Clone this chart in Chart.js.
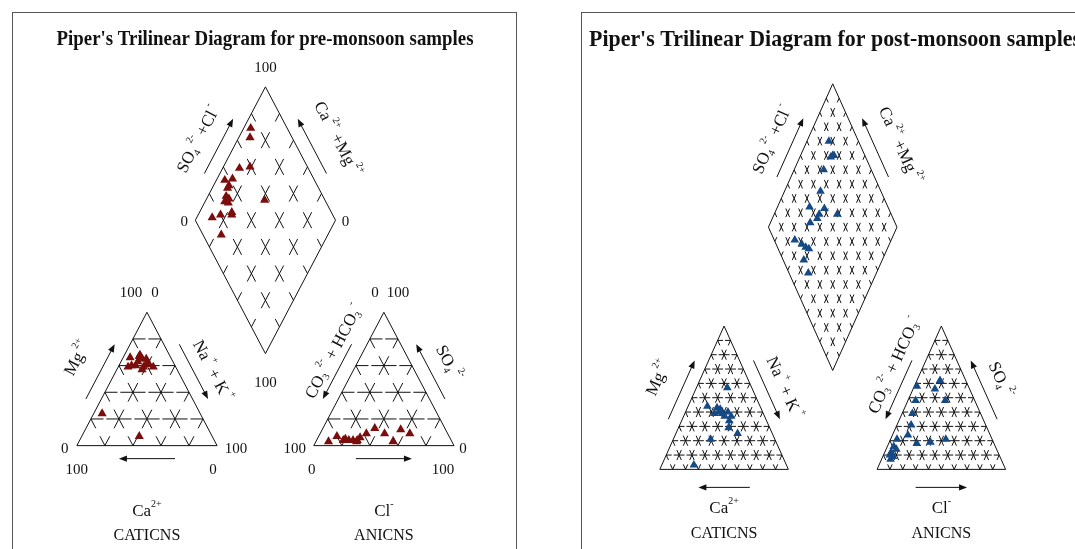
<!DOCTYPE html>
<html>
<head>
<meta charset="utf-8">
<title>Piper trilinear diagrams</title>
<script src="https://cdn.jsdelivr.net/npm/chart.js@4.4.1/dist/chart.umd.min.js"></script>
<style>
  html, body { margin: 0; padding: 0; background: #fff; }
  body { position: relative; width: 1075px; height: 549px; overflow: hidden; }
  .box { position: absolute; border: 1px solid #555; border-bottom: none; }
  canvas { position: absolute; top: 0; }
</style>
</head>
<body>
<div class="box" style="left:12px; top:12px; width:503px; height:560px;"></div>
<div class="box" style="left:581px; top:12px; width:600px; height:560px;"></div>
<canvas id="pre" width="540" height="549" style="left:0;"></canvas>
<canvas id="post" width="535" height="549" style="left:540px;"></canvas>
<script>
// pre-monsoon, % of total meq/L
const preCa  = [29, 22, 21, 18, 34, 25, 16, 18, 28, 70, 52, 21, 25, 19, 31, 23];
const preMg  = [66, 67, 65, 65, 59, 57, 59, 61, 60, 24, 7, 68, 63, 62, 60, 59];
const preNaK = [5, 11, 14, 17, 7, 18, 25, 21, 12, 6, 41, 11, 12, 19, 9, 18];

const preHCO3 = [88, 80, 75, 73, 70, 67, 64, 58, 50, 45, 42, 32, 27, 77, 68];
const preSO4  = [3, 7, 5, 4, 4, 4, 6, 9, 13, 9, 3, 12, 9, 4, 3];
const preCl   = [9, 13, 20, 23, 26, 29, 30, 33, 37, 46, 55, 56, 64, 19, 29];

const preSO4Cl = [74, 70, 51, 59, 36, 37, 42, 31, 30, 57, 29, 28, 13, 20, 28, 13, 35, 32];
const preCaMg  = [95, 92, 88, 81, 94, 89, 89, 87, 83, 58, 77, 86, 89, 84, 76, 76, 89, 84];

// post-monsoon
const postCa  = [19, 41, 34, 34, 32, 31, 27, 26, 32, 27, 50, 72, 32, 38, 29];
const postMg  = [57, 44, 43, 40, 39, 37, 40, 37, 29, 25, 21, 3, 42, 39, 34];
const postNaK = [24, 15, 23, 26, 29, 32, 33, 37, 39, 48, 29, 25, 26, 23, 37];

const postHCO3 = [20, 40, 27, 23, 46, 53, 58, 64, 74, 60, 49, 36, 79, 83, 85, 78, 83, 86];
const postSO4  = [62, 58, 56, 48, 48, 39, 31, 24, 21, 18, 19, 21, 16, 12, 10, 14, 9, 7];
const postCl   = [18, 2, 17, 29, 6, 8, 11, 12, 5, 22, 32, 43, 5, 5, 5, 8, 8, 7];

const postSO4Cl = [77, 75, 73, 76, 63, 53, 39, 44, 50, 58, 41, 34, 16, 20, 22, 24, 16, 15];
const postCaMg  = [83, 75, 76, 74, 77, 72, 75, 65, 63, 51, 65, 69, 75, 68, 64, 61, 61, 53];

const tickText = ["0", "100"];

// diagram units: triangle side = 100 wide, 100 high, gap between triangles
const GAP = 69;
function cationXY(mg, nak) { return { x: nak + mg / 2, y: mg }; }
function anionXY(so4, cl) { return { x: 100 + GAP + cl + so4 / 2, y: so4 }; }
function diamondXY(s, m) { return { x: 100 + GAP / 2 + (s - m) / 2, y: GAP + s + m }; }

const CORNERS = {
  A0: [0, 0], A1: [100, 0], Ap: [50, 100],
  B0: [100 + GAP, 0], B1: [200 + GAP, 0], Bp: [150 + GAP, 100],
  L: [50 + GAP / 2, 100 + GAP], T: [100 + GAP / 2, 200 + GAP],
  R: [150 + GAP / 2, 100 + GAP], D: [100 + GAP / 2, GAP]
};

// each line: [start, end, segments between nodes, horizontal?]
function gridLines(n) {
  const tri = [], dia = [];
  for (let k = 1; k < n; k++) {
    const c = 100 * k / n;
    [0, 100 + GAP].forEach(ox => {
      tri.push([[ox + c / 2, c], [ox + 100 - c / 2, c], n - k, true]);
      tri.push([[ox + c, 0], [ox + c + (100 - c) / 2, 100 - c], n - k, false]);
      tri.push([[ox + 100 - c, 0], [ox + (100 - c) / 2, 100 - c], n - k, false]);
    });
    const a = diamondXY(c, 0), b = diamondXY(c, 100);
    const e = diamondXY(0, c), f = diamondXY(100, c);
    dia.push([[a.x, a.y], [b.x, b.y], n, false]);
    dia.push([[e.x, e.y], [f.x, f.y], n, false]);
  }
  return { tri, dia };
}

function drawRuns(ctx, runs, x, y, angle, size) {
  const big = size + 'px "Liberation Serif"';
  const small = Math.round(size * 0.6) + 'px "Liberation Serif"';
  ctx.save();
  ctx.translate(x, y);
  ctx.rotate(angle);
  let total = 0;
  runs.forEach(r => { ctx.font = r[1] ? small : big; total += ctx.measureText(r[0]).width; });
  let cx = -total / 2;
  ctx.textAlign = 'left';
  ctx.textBaseline = 'middle';
  runs.forEach(r => {
    ctx.font = r[1] ? small : big;
    const dy = r[1] === 1 ? -size * 0.45 : (r[1] === -1 ? size * 0.3 : 0);
    ctx.fillText(r[0], cx, dy);
    cx += ctx.measureText(r[0]).width;
  });
  ctx.restore();
}

function arrow(ctx, x1, y1, x2, y2) {
  const a = Math.atan2(y2 - y1, x2 - x1);
  ctx.beginPath();
  ctx.moveTo(x1, y1);
  ctx.lineTo(x2 - Math.cos(a) * 4, y2 - Math.sin(a) * 4);
  ctx.stroke();
  ctx.beginPath();
  ctx.moveTo(x2, y2);
  ctx.lineTo(x2 - Math.cos(a) * 8 + Math.sin(a) * 3.2, y2 - Math.sin(a) * 8 - Math.cos(a) * 3.2);
  ctx.lineTo(x2 - Math.cos(a) * 8 - Math.sin(a) * 3.2, y2 - Math.sin(a) * 8 + Math.cos(a) * 3.2);
  ctx.closePath();
  ctx.fill();
}

const LABELS = {
  so4cl: [['SO', 0], ['4', -1], [' 2-', 1], [' +Cl', 0], [' -', 1]],
  camg: [['Ca', 0], [' 2+', 1], [' +Mg', 0], [' 2+', 1]],
  mg: [['Mg', 0], [' 2+', 1]],
  nak: [['Na', 0], [' +', 1], [' + K', 0], [' +', 1]],
  co3: [['CO', 0], ['3', -1], [' 2-', 1], [' + HCO', 0], ['3', -1], [' -', 1]],
  so4: [['SO', 0], ['4', -1], [' 2-', 1]],
  ca: [['Ca', 0], ['2+', 1]],
  cl: [['Cl', 0], ['-', 1]]
};

const piperFrame = {
  id: 'piperFrame',
  beforeDatasetsDraw(chart, args, o) {
    const ctx = chart.ctx, sx = chart.scales.x, sy = chart.scales.y;
    const P = (u, v) => [sx.getPixelForValue(u), sy.getPixelForValue(v)];
    const g = gridLines(o.divisions);
    ctx.save();
    ctx.strokeStyle = '#111';
    ctx.lineWidth = 1;
    const dashed = (list, fracH, fracD) => list.forEach(([a, b, segs, flat]) => {
      const p = P(a[0], a[1]), q = P(b[0], b[1]);
      const step = Math.hypot(q[0] - p[0], q[1] - p[1]) / segs;
      const frac = flat ? fracH : fracD;
      ctx.setLineDash([step * frac, step * (1 - frac)]);
      ctx.lineDashOffset = step * frac / 2;
      ctx.beginPath();
      ctx.moveTo(p[0], p[1]);
      ctx.lineTo(q[0], q[1]);
      ctx.stroke();
    });
    dashed(g.tri, o.flatDash, o.triDash);
    dashed(g.dia, o.diaDash, o.diaDash);
    ctx.setLineDash([]);
    const C = CORNERS;
    [[C.A0, C.A1, C.Ap], [C.B0, C.B1, C.Bp], [C.D, C.R, C.T, C.L]].forEach(shape => {
      ctx.beginPath();
      shape.forEach((c, i) => {
        const p = P(c[0], c[1]);
        if (i === 0) ctx.moveTo(p[0], p[1]); else ctx.lineTo(p[0], p[1]);
      });
      ctx.closePath();
      ctx.stroke();
    });
    ctx.restore();
  },
  afterDatasetsDraw(chart, args, o) {
    const ctx = chart.ctx, sx = chart.scales.x, sy = chart.scales.y;
    const C = {};
    Object.keys(CORNERS).forEach(k => {
      C[k] = [sx.getPixelForValue(CORNERS[k][0]), sy.getPixelForValue(CORNERS[k][1])];
    });
    const along = (p, q, t) => [p[0] + (q[0] - p[0]) * t, p[1] + (q[1] - p[1]) * t];
    ctx.save();
    ctx.fillStyle = '#111';
    ctx.strokeStyle = '#111';
    ctx.lineWidth = 1;

    // arrows beside the sides
    const side = [
      ['L', 'T', -1, true], ['R', 'T', 1, true],
      ['A0', 'Ap', -1, true], ['A1', 'Ap', 1, false],
      ['B0', 'Bp', -1, false], ['B1', 'Bp', 1, true]
    ];
    side.forEach(([p, q, sgn, up]) => {
      const a = along(C[p], C[q], 0.35), b = along(C[p], C[q], 0.76);
      const dx = sgn * o.arrowGap;
      if (up) arrow(ctx, a[0] + dx, a[1], b[0] + dx, b[1]);
      else arrow(ctx, b[0] + dx, b[1], a[0] + dx, a[1]);
    });
    const c1 = along(C.A0, C.A1, 0.7), c2 = along(C.A0, C.A1, 0.3);
    arrow(ctx, c1[0], c1[1] + o.baseGap, c2[0], c2[1] + o.baseGap);
    const a1 = along(C.B0, C.B1, 0.3), a2 = along(C.B0, C.B1, 0.7);
    arrow(ctx, a1[0], a1[1] + o.baseGap, a2[0], a2[1] + o.baseGap);

    // rotated axis names
    const angleOf = (p, q) => {
      let a = Math.atan2(q[1] - p[1], q[0] - p[0]);
      if (a < -Math.PI / 2) a += Math.PI;
      return a;
    };
    o.sideLabels.forEach(([key, p, q, t, dx]) => {
      const m = along(C[p], C[q], t);
      drawRuns(ctx, LABELS[key], m[0] + dx, m[1], angleOf(C[p], C[q]), o.labelSize);
    });

    // ions and panel names under the triangles
    const midA = (C.A0[0] + C.A1[0]) / 2, midB = (C.B0[0] + C.B1[0]) / 2;
    drawRuns(ctx, LABELS.ca, midA, o.ionY, 0, 17);
    drawRuns(ctx, LABELS.cl, midB, o.ionY, 0, 17);
    ctx.font = '16px "Liberation Serif"';
    ctx.textAlign = 'center';
    ctx.textBaseline = 'middle';
    ctx.fillText('CATICNS', midA, o.nameY);
    ctx.fillText('ANICNS', midB, o.nameY);

    // percentage ticks at the corners
    if (o.ticks) {
      const [zero, hundred] = tickText;
      const put = (s, c, dx, dy) => ctx.fillText(s, C[c][0] + dx, C[c][1] + dy);
      ctx.font = '15px "Liberation Serif"';
      put(hundred, 'T', 0, -19); put(zero, 'L', -11, 2);
      put(zero, 'R', 10, 2); put(hundred, 'D', 0, 29);
      put(hundred, 'Ap', -16, -19); put(zero, 'Ap', 8, -19);
      put(zero, 'A0', -12, 3); put(hundred, 'A1', 19, 3);
      put(hundred, 'A0', 0, 24); put(zero, 'A1', -4, 24);
      put(zero, 'Bp', -9, -19); put(hundred, 'Bp', 14, -19);
      put(hundred, 'B0', -19, 3); put(zero, 'B1', 9, 3);
      put(zero, 'B0', -2, 24); put(hundred, 'B1', -11, 24);
    }

    // title, set narrow like the printed figure
    const t = o.title;
    ctx.font = 'bold ' + t.size + 'px "Liberation Serif"';
    ctx.textBaseline = 'alphabetic';
    ctx.textAlign = t.align;
    const w = ctx.measureText(t.text).width;
    ctx.translate(t.x, t.y);
    ctx.scale(t.width / w, 1);
    ctx.fillText(t.text, 0, 0);
    ctx.restore();
  }
};

function piperChart(id, colour, cation, anion, diamond, frame, map) {
  const canvas = document.getElementById(id);
  const W = canvas.width, H = canvas.height;
  const dot = { pointStyle: 'triangle', backgroundColor: colour, borderColor: colour, borderWidth: 0, pointRadius: map.r };
  return new Chart(canvas, {
    type: 'scatter',
    data: {
      datasets: [
        Object.assign({ label: 'cations', data: cation }, dot),
        Object.assign({ label: 'anions', data: anion }, dot),
        Object.assign({ label: 'diamond', data: diamond }, dot)
      ]
    },
    options: {
      responsive: false,
      animation: false,
      layout: { padding: 0 },
      scales: {
        x: { type: 'linear', display: false, min: -map.ox / map.sx, max: (W - map.ox) / map.sx },
        y: { type: 'linear', display: false, min: (map.oy - H) / map.sy, max: map.oy / map.sy }
      },
      plugins: {
        legend: { display: false },
        tooltip: { enabled: false },
        piperFrame: frame
      }
    },
    plugins: [piperFrame]
  });
}

piperChart('pre', '#7b0d0d',
  preMg.map((v, i) => cationXY(v, preNaK[i])),
  preSO4.map((v, i) => anionXY(v, preCl[i])),
  preSO4Cl.map((v, i) => diamondXY(v, preCaMg[i])),
  {
    divisions: 5, flatDash: 0.9, triDash: 0.7, diaDash: 0.6, arrowGap: 15.5, baseGap: 13,
    labelSize: 17, ionY: 512, nameY: 536, ticks: true,
    sideLabels: [
      ['so4cl', 'L', 'T', 0.606, -39], ['camg', 'R', 'T', 0.606, 44],
      ['mg', 'A0', 'Ap', 0.654, -45], ['nak', 'A1', 'Ap', 0.559, 34],
      ['co3', 'B0', 'Bp', 0.706, -29], ['so4', 'B1', 'Bp', 0.618, 37.5]
    ],
    title: { text: "Piper's Trilinear Diagram for pre-monsoon samples", size: 21, x: 265, y: 45, width: 417, align: 'center' }
  },
  { ox: 73, oy: 449, sx: 1.43, sy: 1.36, r: 5.3 });

piperChart('post', '#154a86',
  postMg.map((v, i) => cationXY(v, postNaK[i])),
  postSO4.map((v, i) => anionXY(v, postCl[i])),
  postSO4Cl.map((v, i) => diamondXY(v, postCaMg[i])),
  {
    divisions: 10, flatDash: 0.85, triDash: 0.7, diaDash: 0.6, arrowGap: 14, baseGap: 18,
    labelSize: 17, ionY: 509, nameY: 534, ticks: false,
    sideLabels: [
      ['so4cl', 'L', 'T', 0.61, -35], ['camg', 'R', 'T', 0.568, 39],
      ['mg', 'A0', 'Ap', 0.637, -42], ['nak', 'A1', 'Ap', 0.568, 32],
      ['co3', 'B0', 'Bp', 0.726, -29], ['so4', 'B1', 'Bp', 0.623, 34.5]
    ],
    title: { text: "Piper's Trilinear Diagram for post-monsoon samples", size: 24, x: 49, y: 46, width: 492, align: 'left' }
  },
  { ox: 117, oy: 473, sx: 1.31, sy: 1.46, r: 5 });
</script>
</body>
</html>
